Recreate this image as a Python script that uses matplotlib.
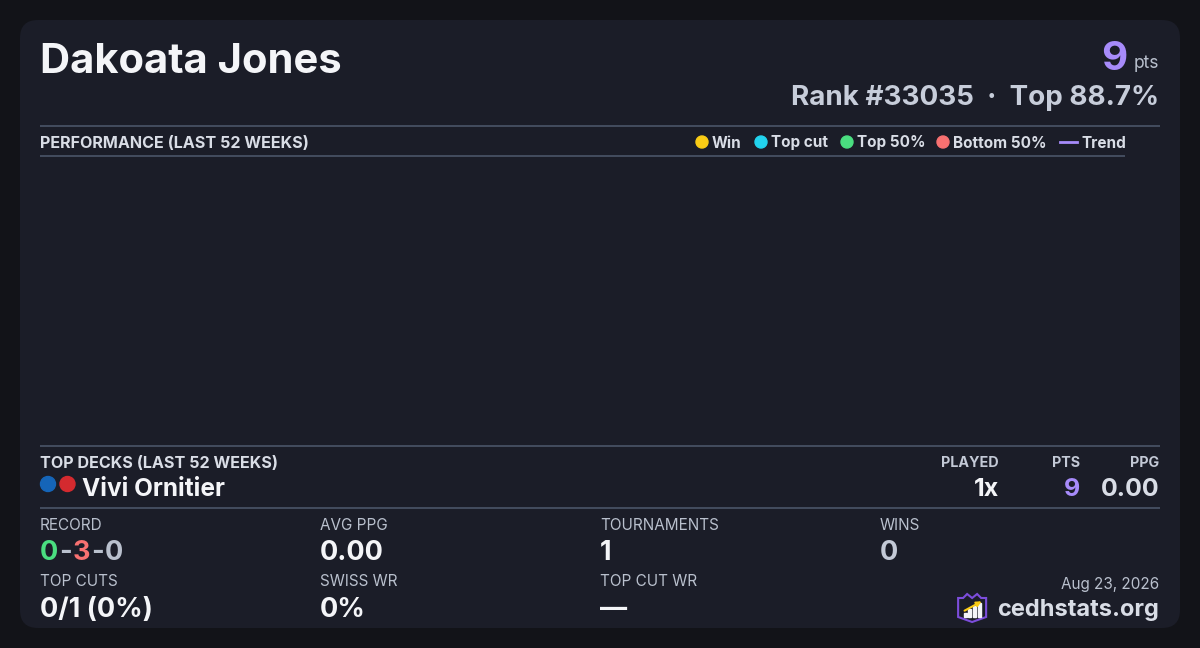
import matplotlib
matplotlib.use("Agg")
import matplotlib.pyplot as plt
from matplotlib.patches import FancyBboxPatch, Circle, Polygon, Rectangle

plt.rcParams['font.family'] = ['Inter', 'DejaVu Sans']

# datos del jugador
player_name = "Dakoata Jones"
total_pts = 9
rank = 33035
top_pct = 88.7
report_date = "Aug 23, 2026"

# rendimiento (sin torneos en las ultimas 52 semanas)
perf_weeks = []
perf_points = []
perf_trend = []
legend_labels = ["Win", "Top cut", "Top 50%", "Bottom 50%", "Trend"]

# mazos
deck_names = ["Vivi Ornitier"]
deck_identity = [["U", "R"]]
deck_played = [1]
deck_pts = [9]
deck_ppg = [0.00]

# estadisticas
record_w, record_l, record_d = 0, 3, 0
avg_ppg = 0.00
tournaments = 1
wins = 0
top_cuts, top_cut_total = 0, 1
swiss_wr = 0
top_cut_wr = None

# colores
BG = "#121318"
CARD = "#1b1d28"
LINE = "#4b5568"
WHITE = "#f4f5f8"
LIGHT = "#d9dde6"
GRAY = "#b9c0cd"
PURPLE = "#a78bfa"
GREEN = "#4ade80"
RED = "#f87171"
legend_colors = ["#facc15", "#22d3ee", "#4ade80", "#f87171", PURPLE]
mana = {"U": "#1565b8", "R": "#d42a2f", "W": "#f6f1d2", "B": "#3a3335", "G": "#1f8a4c"}

fig = plt.figure(figsize=(12, 6.48), dpi=100)
fig.patch.set_facecolor(BG)
ax = fig.add_axes([0, 0, 1, 1])
ax.set_xlim(0, 1200)
ax.set_ylim(648, 0)
ax.axis("off")

ax.add_patch(FancyBboxPatch((20, 20), 1160, 608, boxstyle="round,pad=0,rounding_size=18",
                            facecolor=CARD, edgecolor="none"))

renderer = fig.canvas.get_renderer()


def width_px(t):
    bb = t.get_window_extent(renderer=renderer)
    return bb.width


def hline(y, x0, x1):
    ax.plot([x0, x1], [y, y], color=LINE, lw=1.2, solid_capstyle="butt")


# cabecera
ax.text(40, 62, player_name, fontsize=30, fontweight="bold", color=WHITE, va="center", ha="left")
t_pts = ax.text(1159, 64, "pts", fontsize=12.5, color=GRAY, va="center", ha="right")
w = width_px(t_pts)
ax.text(1159 - w - 6, 60, str(total_pts), fontsize=29, fontweight="bold", color=PURPLE,
        va="center", ha="right")
ax.text(1159, 98, f"Rank #{rank}  \u00b7  Top {top_pct}%", fontsize=20, fontweight="bold",
        color="#c7cdda", va="center", ha="right")

# rendimiento
hline(126, 40, 1160)
ax.text(40, 143, "PERFORMANCE (LAST 52 WEEKS)", fontsize=11.6, fontweight="bold", color=LIGHT,
        va="center", ha="left")
leg_x = [702, 761, 847, 943, 1060]
for i, lab in enumerate(legend_labels):
    if lab == "Trend":
        ax.plot([leg_x[i], leg_x[i] + 17], [142, 142], color=legend_colors[i], lw=2)
        ax.text(leg_x[i] + 21, 143, lab, fontsize=11, fontweight="bold", color=LIGHT,
                va="center", ha="left")
    else:
        ax.add_patch(Circle((leg_x[i], 142), 6, color=legend_colors[i]))
        ax.text(leg_x[i] + 10, 143, lab, fontsize=11, fontweight="bold", color=LIGHT,
                va="center", ha="left")
hline(156, 40, 1125)

perf_ax = fig.add_axes([40 / 1200, 1 - 446 / 648, 1085 / 1200, 290 / 648])
perf_ax.set_facecolor("none")
perf_ax.scatter(perf_weeks, perf_points, s=30)
perf_ax.plot(perf_weeks, perf_trend, color=PURPLE)
perf_ax.axis("off")

# mazos
hline(446, 40, 1160)
ax.text(40, 463, "TOP DECKS (LAST 52 WEEKS)", fontsize=11.6, fontweight="bold", color=LIGHT,
        va="center", ha="left")
for j, h in enumerate(["PLAYED", "PTS", "PPG"]):
    ax.text([999, 1080, 1159][j], 463, h, fontsize=10.3, fontweight="bold", color="#c3c9d6",
            va="center", ha="right")
for k, name in enumerate(deck_names):
    y = 490 + k * 30
    for c, col in enumerate(deck_identity[k]):
        ax.add_patch(Circle((48 + c * 19.5, y - 6), 7.5, color=mana[col]))
    ax.text(82, y, name, fontsize=17.6, fontweight="bold", color=WHITE, va="center", ha="left")
    ax.text(999, y, f"{deck_played[k]}x", fontsize=18, fontweight="bold", color=WHITE,
            va="center", ha="right")
    ax.text(1080, y, str(deck_pts[k]), fontsize=18, fontweight="bold", color=PURPLE,
            va="center", ha="right")
    ax.text(1159, y, f"{deck_ppg[k]:.2f}", fontsize=18, fontweight="bold", color=LIGHT,
            va="center", ha="right")
hline(508, 40, 1160)

# estadisticas
lab_kw = dict(fontsize=11, color=GRAY, va="center", ha="left")
val_kw = dict(fontsize=19.5, fontweight="bold", va="center", ha="left")
ax.text(40, 526, "RECORD", **lab_kw)
x = 40
for piece, col in [(str(record_w), GREEN), ("-", GRAY), (str(record_l), RED), ("-", GRAY),
                   (str(record_d), GRAY)]:
    t = ax.text(x, 553, piece, color=col, **val_kw)
    x += width_px(t) + 1
ax.text(320, 526, "AVG PPG", **lab_kw)
ax.text(320, 553, f"{avg_ppg:.2f}", color=WHITE, **val_kw)
ax.text(600, 526, "TOURNAMENTS", **lab_kw)
ax.text(600, 553, str(tournaments), color=WHITE, **val_kw)
ax.text(880, 526, "WINS", **lab_kw)
ax.text(880, 553, str(wins), color="#c3c9d6", **val_kw)

ax.text(40, 582, "TOP CUTS", **lab_kw)
pct = 100 * top_cuts / top_cut_total
ax.text(40, 610, f"{top_cuts}/{top_cut_total} ({pct:.0f}%)", color=WHITE, **val_kw)
ax.text(320, 582, "SWISS WR", **lab_kw)
ax.text(320, 610, f"{swiss_wr}%", color=WHITE, **val_kw)
ax.text(600, 582, "TOP CUT WR", **lab_kw)
ax.text(600, 610, "\u2014" if top_cut_wr is None else f"{top_cut_wr}%", color=WHITE, **val_kw)

# pie
ax.text(1159, 584, report_date, fontsize=11, color=GRAY, va="center", ha="right")
t_site = ax.text(1159, 610, "cedhstats.org", fontsize=17, fontweight="bold", color=LIGHT,
                 va="center", ha="right")
lx = 1159 - width_px(t_site) - 39
# logo (escudo)
shield = [(lx, 598), (lx + 5, 598), (lx + 9, 594), (lx + 14, 598), (lx + 19, 594),
          (lx + 23, 598), (lx + 28, 598), (lx + 28, 617), (lx + 14, 622), (lx, 617)]
ax.add_patch(Polygon(shield, closed=True, facecolor=CARD, edgecolor="#7c4ddb", lw=1.5))
for bx, bh in [(6, 4), (10, 8), (15, 11), (20, 14)]:
    ax.add_patch(Rectangle((lx + bx, 617 - bh), 3, bh, color=WHITE))
ax.annotate("", xy=(lx + 26, 600), xytext=(lx + 4, 612),
            arrowprops=dict(arrowstyle="-|>", color="#facc15", lw=1.5, mutation_scale=7))

fig.savefig("out.png", dpi=100, facecolor=BG)
